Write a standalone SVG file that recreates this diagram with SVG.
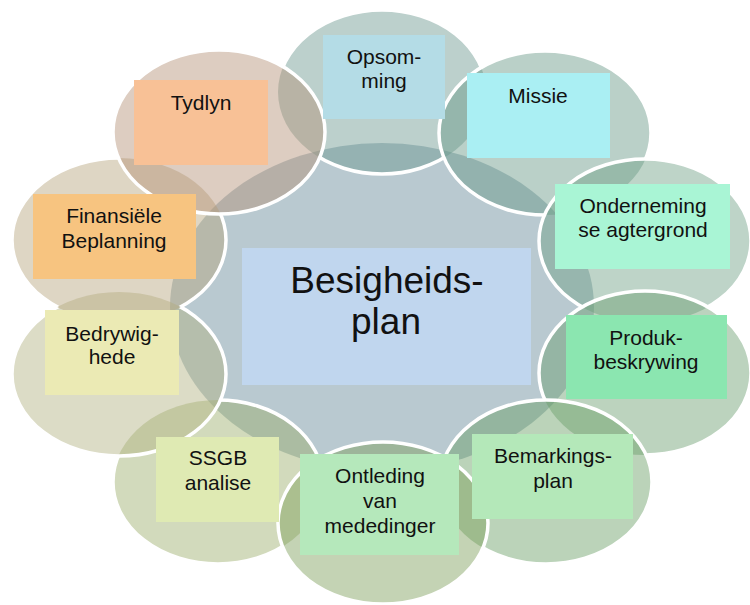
<svg xmlns="http://www.w3.org/2000/svg" xmlns:xlink="http://www.w3.org/1999/xlink" width="750" height="605" viewBox="0 0 750 605">
<style>
.c{fill-opacity:0.45;stroke:none}
.s{fill:none;stroke:#ffffff;stroke-width:3.5}
.box{stroke:none}
.t{font-family:"Liberation Sans",Arial,Helvetica,sans-serif;font-size:21px;fill:#111111;text-anchor:middle}
.tc{font-family:"Liberation Sans",Arial,Helvetica,sans-serif;font-size:37px;fill:#111111;text-anchor:middle}
</style>
<defs>
<ellipse id="e1" cx="382" cy="92" rx="104" ry="82"/>
<ellipse id="e2" cx="545" cy="133" rx="106" ry="82"/>
<ellipse id="e3" cx="645" cy="241" rx="106" ry="82"/>
<ellipse id="e4" cx="645" cy="373" rx="106" ry="82"/>
<ellipse id="e5" cx="546" cy="482" rx="106" ry="82"/>
<ellipse id="e6" cx="218" cy="482" rx="105" ry="82"/>
<ellipse id="e7" cx="383" cy="523" rx="105" ry="81"/>
<ellipse id="e8" cx="119" cy="374" rx="107" ry="82"/>
<ellipse id="e9" cx="119" cy="240" rx="107" ry="82"/>
<ellipse id="e10" cx="219" cy="132" rx="106" ry="82"/>
<mask id="m1" maskUnits="userSpaceOnUse" x="0" y="0" width="750" height="605"><rect width="750" height="605" fill="#fff"/><use xlink:href="#e2" fill="#000"/><use xlink:href="#e3" fill="#000"/><use xlink:href="#e4" fill="#000"/><use xlink:href="#e5" fill="#000"/><use xlink:href="#e6" fill="#000"/><use xlink:href="#e7" fill="#000"/><use xlink:href="#e8" fill="#000"/><use xlink:href="#e9" fill="#000"/><use xlink:href="#e10" fill="#000"/></mask>
<mask id="m2" maskUnits="userSpaceOnUse" x="0" y="0" width="750" height="605"><rect width="750" height="605" fill="#fff"/><use xlink:href="#e3" fill="#000"/><use xlink:href="#e4" fill="#000"/><use xlink:href="#e5" fill="#000"/><use xlink:href="#e6" fill="#000"/><use xlink:href="#e7" fill="#000"/><use xlink:href="#e8" fill="#000"/><use xlink:href="#e9" fill="#000"/><use xlink:href="#e10" fill="#000"/></mask>
<mask id="m3" maskUnits="userSpaceOnUse" x="0" y="0" width="750" height="605"><rect width="750" height="605" fill="#fff"/><use xlink:href="#e4" fill="#000"/><use xlink:href="#e5" fill="#000"/><use xlink:href="#e6" fill="#000"/><use xlink:href="#e7" fill="#000"/><use xlink:href="#e8" fill="#000"/><use xlink:href="#e9" fill="#000"/><use xlink:href="#e10" fill="#000"/></mask>
<mask id="m4" maskUnits="userSpaceOnUse" x="0" y="0" width="750" height="605"><rect width="750" height="605" fill="#fff"/><use xlink:href="#e5" fill="#000"/><use xlink:href="#e6" fill="#000"/><use xlink:href="#e7" fill="#000"/><use xlink:href="#e8" fill="#000"/><use xlink:href="#e9" fill="#000"/><use xlink:href="#e10" fill="#000"/></mask>
<mask id="m5" maskUnits="userSpaceOnUse" x="0" y="0" width="750" height="605"><rect width="750" height="605" fill="#fff"/><use xlink:href="#e6" fill="#000"/><use xlink:href="#e7" fill="#000"/><use xlink:href="#e8" fill="#000"/><use xlink:href="#e9" fill="#000"/><use xlink:href="#e10" fill="#000"/></mask>
<mask id="m6" maskUnits="userSpaceOnUse" x="0" y="0" width="750" height="605"><rect width="750" height="605" fill="#fff"/><use xlink:href="#e7" fill="#000"/><use xlink:href="#e8" fill="#000"/><use xlink:href="#e9" fill="#000"/><use xlink:href="#e10" fill="#000"/></mask>
<mask id="m7" maskUnits="userSpaceOnUse" x="0" y="0" width="750" height="605"><rect width="750" height="605" fill="#fff"/><use xlink:href="#e8" fill="#000"/><use xlink:href="#e9" fill="#000"/><use xlink:href="#e10" fill="#000"/></mask>
<mask id="m8" maskUnits="userSpaceOnUse" x="0" y="0" width="750" height="605"><rect width="750" height="605" fill="#fff"/><use xlink:href="#e9" fill="#000"/><use xlink:href="#e10" fill="#000"/></mask>
<mask id="m9" maskUnits="userSpaceOnUse" x="0" y="0" width="750" height="605"><rect width="750" height="605" fill="#fff"/><use xlink:href="#e8" fill="#000"/><use xlink:href="#e10" fill="#000"/></mask>
</defs>
<rect width="750" height="605" fill="#ffffff"/>
<g id="ring">
<ellipse cx="382" cy="307" rx="212" ry="164" fill="#648797" class="c"/>
<use xlink:href="#e1" class="c" fill="#6a978e"/>
<use xlink:href="#e1" class="s" mask="url(#m1)"/>
<use xlink:href="#e2" class="c" fill="#669785"/>
<use xlink:href="#e2" class="s" mask="url(#m2)"/>
<use xlink:href="#e3" class="c" fill="#6f9f85"/>
<use xlink:href="#e3" class="s" mask="url(#m3)"/>
<use xlink:href="#e4" class="c" fill="#6a9d6e"/>
<use xlink:href="#e4" class="s" mask="url(#m4)"/>
<use xlink:href="#e5" class="c" fill="#689d63"/>
<use xlink:href="#e5" class="s" mask="url(#m5)"/>
<use xlink:href="#e6" class="c" fill="#9bad6a"/>
<use xlink:href="#e6" class="s" mask="url(#m6)"/>
<use xlink:href="#e7" class="c" fill="#7c9d58"/>
<use xlink:href="#e7" class="s" mask="url(#m7)"/>
<use xlink:href="#e8" class="c" fill="#b1b180"/>
<use xlink:href="#e8" class="s" mask="url(#m8)"/>
<use xlink:href="#e9" class="c" fill="#b6a57c"/>
<use xlink:href="#e9" class="s" mask="url(#m9)"/>
<use xlink:href="#e10" class="c" fill="#b39075"/>
<use xlink:href="#e10" class="s"/>
</g>
<g id="connectors"></g>
<g id="node-center">
<rect class="box" x="242" y="248" width="289" height="137" fill="#c0d6ee"/>
<text class="tc" x="387" y="293">Besigheids-</text>
<text class="tc" x="386" y="334">plan</text>
</g>
<g id="node-opsomming">
<rect class="box" x="323" y="35" width="122" height="84" fill="#b4dce6"/>
<text class="t" x="384" y="64">Opsom-</text>
<text class="t" x="384" y="88">ming</text>
</g>
<g id="node-missie">
<rect class="box" x="467" y="73" width="143" height="85" fill="#aaeff3"/>
<text class="t" x="538" y="103">Missie</text>
</g>
<g id="node-onderneming">
<rect class="box" x="555" y="184" width="175" height="85" fill="#a9f5d5"/>
<text class="t" x="643" y="213">Onderneming</text>
<text class="t" x="643" y="237">se agtergrond</text>
</g>
<g id="node-produk">
<rect class="box" x="566" y="315" width="161" height="84" fill="#8be6b0"/>
<text class="t" x="646" y="345">Produk-</text>
<text class="t" x="646" y="369">beskrywing</text>
</g>
<g id="node-bemarkings">
<rect class="box" x="472" y="434" width="161" height="85" fill="#b4e8b9"/>
<text class="t" x="553" y="463">Bemarkings-</text>
<text class="t" x="553" y="488">plan</text>
</g>
<g id="node-ontleding">
<rect class="box" x="300" y="454" width="159" height="101" fill="#b5e8bb"/>
<text class="t" x="380" y="483">Ontleding</text>
<text class="t" x="380" y="508">van</text>
<text class="t" x="380" y="533">mededinger</text>
</g>
<g id="node-ssgb">
<rect class="box" x="156" y="437" width="123" height="85" fill="#dfeab3"/>
<text class="t" x="218" y="465">SSGB</text>
<text class="t" x="218" y="490">analise</text>
</g>
<g id="node-bedrywighede">
<rect class="box" x="45" y="310" width="134" height="85" fill="#ebeab4"/>
<text class="t" x="112" y="341">Bedrywig-</text>
<text class="t" x="112" y="364">hede</text>
</g>
<g id="node-finansiele">
<rect class="box" x="33" y="194" width="163" height="85" fill="#f7c480"/>
<text class="t" x="114" y="223">Finansiële</text>
<text class="t" x="114" y="248">Beplanning</text>
</g>
<g id="node-tydlyn">
<rect class="box" x="134" y="80" width="134" height="85" fill="#f8c196"/>
<text class="t" x="201" y="110">Tydlyn</text>
</g>
</svg>
